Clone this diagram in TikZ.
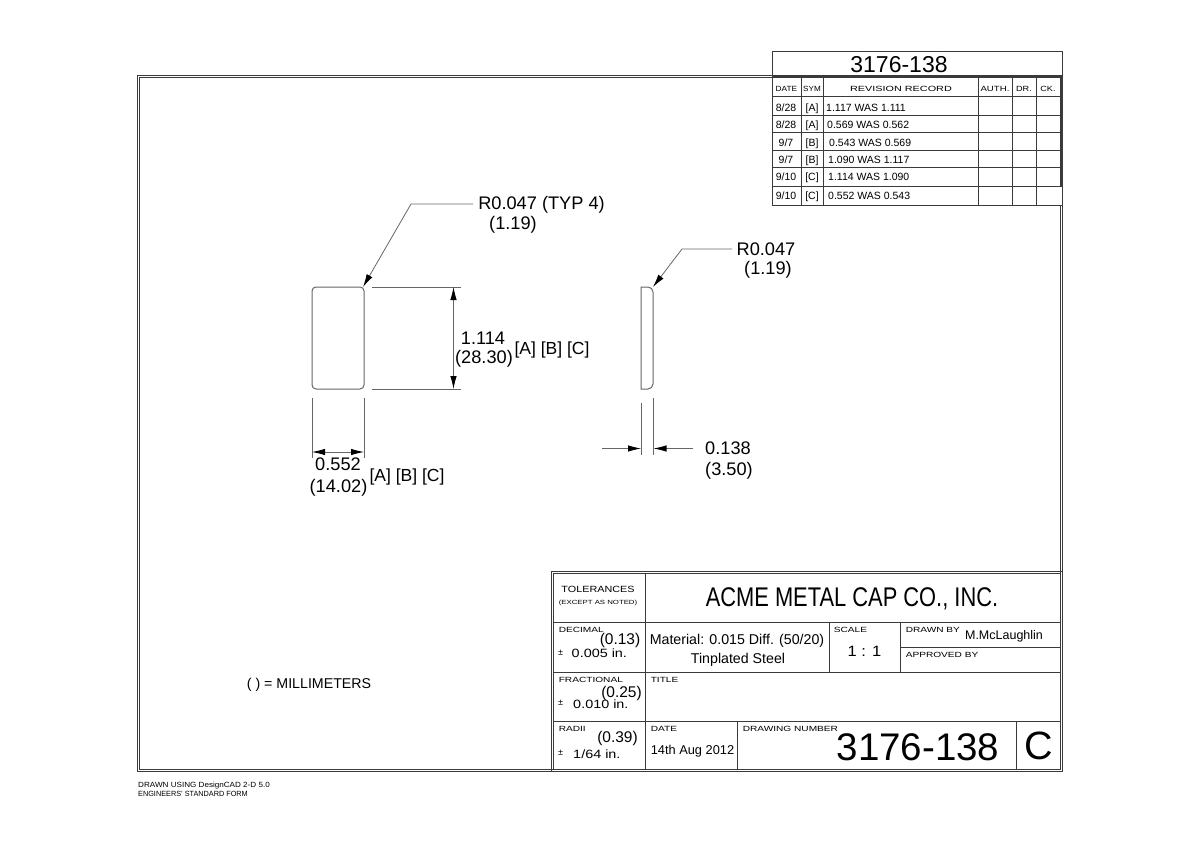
\documentclass[tikz,border=0pt]{standalone}
\usepackage{fontspec}
\setmainfont{Liberation Sans}
\usetikzlibrary{arrows.meta, positioning}

\definecolor{inkline}{HTML}{3A3A3A}
\definecolor{dimline}{HTML}{666666}

\newcommand{\fsz}[1]{\fontsize{#1}{#1}\selectfont}

\tikzset{
	frameline/.style={draw=inkline, line width=1pt},
	partline/.style={draw=dimline, line width=1pt},
	dimension/.style={draw=dimline, line width=0.8pt},
	dimarrow/.style={dimension, -{Latex[length=13pt, width=6.5pt, black]}},
	dimtwin/.style={dimension, {Latex[length=13pt, width=6.5pt, black]}-{Latex[length=13pt, width=6.5pt, black]}},
	plaintext/.style={inner sep=0pt, text depth=0pt},
	dimtext/.style={plaintext, font=\fsz{18.2}},
	revtext/.style={plaintext, font=\fsz{17.5}},
	rowtext/.style={plaintext, font=\fsz{10.5}},
	bodytext/.style={plaintext, font=\fsz{14.2}},
	mmtext/.style={plaintext, font=\fsz{15.5}},
	pmtext/.style={plaintext, font=\fsz{9}},
	valuetext/.style={plaintext, font=\fsz{12}, xscale=1.2, transform shape},
	tinytext/.style={plaintext, font=\fsz{7.5}, xscale=1.35, transform shape},
}

\begin{document}
\begin{tikzpicture}[x=1pt, y=-1pt]
	\useasboundingbox (0,0) rectangle (1200,848);

	% border
	\draw[frameline] (137,76) -- (772,76);
	\draw[frameline] (137,76) rectangle (1062,771);
	\draw[frameline] (139,78) -- (772,78);
	\draw[frameline] (139,78) -- (139,769) -- (1060,769);
	\draw[frameline] (1060,205) -- (1060,769);

	% revision table
	\draw[frameline] (772,52) rectangle (1062,205);
	\draw[frameline, line width=1.4pt] (772,77) -- (1062,77);
	\foreach \rowy in {97,116,133,151,168,187}
		\draw[frameline] (772,\rowy) -- (1062,\rowy);
	\foreach \colx in {801,823,978,1012,1036}
		\draw[frameline] (\colx,77) -- (\colx,205);
	\draw[frameline, line width=1.6pt] (1061,77) -- (1061,187);

	\node[plaintext, font=\fsz{23}] (revtitle) at (899,64) {3176-138};
	\node[tinytext, xscale=0.82] (hdate) at (786.5,88.5) {DATE};
	\node[tinytext, xscale=0.8] (hsym) at (812,88.5) {SYM};
	\node[tinytext, xscale=1.07] (hrec) at (901,88.5) {REVISION RECORD};
	\node[tinytext, xscale=0.95] (hauth) at (995,88.5) {AUTH.};
	\node[tinytext, xscale=0.9] (hdr) at (1024,88.5) {DR.};
	\node[tinytext, xscale=0.9] (hck) at (1048,88.5) {CK.};

	\foreach \rownum/\rowy/\rowdate/\rowsym/\rowx/\rowrec in {
		1/108/8\slash 28/[A]/826/1.117 WAS 1.111,
		2/125/8\slash 28/[A]/827/0.569 WAS 0.562,
		3/143/9\slash 7/[B]/829/0.543 WAS 0.569,
		4/160/9\slash 7/[B]/828/1.090 WAS 1.117,
		5/177/9\slash 10/[C]/828/1.114 WAS 1.090,
		6/196/9\slash 10/[C]/828/0.552 WAS 0.543}
	{
		\node[rowtext] (rdate\rownum) at (786,\rowy) {\rowdate};
		\node[rowtext] (rsym\rownum) at (812,\rowy) {\rowsym};
		\node[rowtext, anchor=west] (rrec\rownum) at (\rowx,\rowy) {\rowrec};
	}

	% plate, front view
	\draw[partline, rounded corners=4pt] (312,287) rectangle (364,389);
	\coordinate (frontTip) at (363,287);
	\coordinate (frontBend) at (411,204);
	\coordinate (frontEnd) at (473,204);
	\draw[dimarrow] (frontEnd) -- (frontBend) -- (frontTip);
	\node[dimtext] (frontR) at (541.5,203) {R0.047 (TYP 4)};
	\node[dimtext] (frontRmm) at (513,223) {(1.19)};

	\coordinate (heightTopA) at (372,287);
	\coordinate (heightTopB) at (461,287);
	\coordinate (heightBotA) at (372,389);
	\coordinate (heightBotB) at (461,389);
	\coordinate (heightTop) at (453.5,287);
	\coordinate (heightBot) at (453.5,389);
	\draw[dimension] (heightTopA) -- (heightTopB);
	\draw[dimension] (heightBotA) -- (heightBotB);
	\draw[dimtwin] (heightTop) -- (heightBot);
	\node[dimtext] (heightIn) at (483,338) {1.114};
	\node[dimtext] (heightMm) at (484,357) {(28.30)};
	\node[revtext] (heightRev) at (552,348) {[A] [B] [C]};

	\coordinate (widthLA) at (312,398);
	\coordinate (widthLB) at (312,458);
	\coordinate (widthRA) at (364,398);
	\coordinate (widthRB) at (364,458);
	\coordinate (widthL) at (312,452);
	\coordinate (widthR) at (364,452);
	\draw[dimension] (widthLA) -- (widthLB);
	\draw[dimension] (widthRA) -- (widthRB);
	\draw[dimtwin] (widthL) -- (widthR);
	\node[dimtext] (widthIn) at (338,464.5) {0.552};
	\node[dimtext] (widthMm) at (338.5,486) {(14.02)};
	\node[revtext] (widthRev) at (407,475) {[A] [B] [C]};

	% plate, side view
	\draw[partline] (653,292) -- (653,384) to[out=270, in=0] (648,389) -- (641,389) -- (641,287) -- (648,287) to[out=0, in=90] (653,292);
	\coordinate (sideTip) at (653,287);
	\coordinate (sideBend) at (682,249);
	\coordinate (sideEnd) at (732,249);
	\draw[dimarrow] (sideEnd) -- (sideBend) -- (sideTip);
	\node[dimtext] (sideR) at (766,249) {R0.047};
	\node[dimtext] (sideRmm) at (768,268) {(1.19)};

	\coordinate (thickLA) at (641,403);
	\coordinate (thickLB) at (641,455);
	\coordinate (thickRA) at (653.5,398);
	\coordinate (thickRB) at (653.5,455);
	\coordinate (thickL) at (641,448.5);
	\coordinate (thickR) at (653.5,448.5);
	\coordinate (thickLEnd) at (602,448.5);
	\coordinate (thickREnd) at (693,448.5);
	\draw[dimension] (thickLA) -- (thickLB);
	\draw[dimension] (thickRA) -- (thickRB);
	\draw[dimarrow] (thickLEnd) -- (thickL);
	\draw[dimarrow] (thickREnd) -- (thickR);
	\node[dimtext] (thickIn) at (728,448) {0.138};
	\node[dimtext] (thickMm) at (729,469) {(3.50)};

	% notes
	\node[bodytext] (unitnote) at (309,683) {( ) = MILLIMETERS};
	\node[tinytext, anchor=west, xscale=0.8] (drawnusing) at (138,785) {DRAWN USING DesignCAD 2-D 5.0};
	\node[tinytext, anchor=west, xscale=0.72] (stdform) at (138,794) {ENGINEERS' STANDARD FORM};

	% title block
	\draw[frameline] (551,571) rectangle (1062,771);
	\draw[frameline] (553,573) rectangle (1060,769);
	\foreach \rowy in {622,672,721}
		\draw[frameline] (553,\rowy) -- (1060,\rowy);
	\draw[frameline] (645,573) -- (645,769);
	\draw[frameline] (737,721) -- (737,769);
	\draw[frameline] (829,622) -- (829,672);
	\draw[frameline] (900,622) -- (900,672);
	\draw[frameline] (900,647) -- (1060,647);
	\draw[frameline] (1016,721) -- (1016,769);

	\node[plaintext, font=\fsz{9}, xscale=1.2, transform shape] (tol) at (598,589.5) {TOLERANCES};
	\node[plaintext, font=\fsz{6}, xscale=1.3, transform shape] (tolnote) at (598,602.5) {(EXCEPT AS NOTED)};
	\node[plaintext, font=\fsz{27}, xscale=0.81, transform shape] (company) at (852,597.5) {ACME METAL CAP CO., INC.};

	\node[tinytext, anchor=west] (decimal) at (558.5,630) {DECIMAL};
	\node[mmtext] (decmm) at (620,639) {(0.13)};
	\node[pmtext] (decpm) at (560.5,652.5) {±};
	\node[valuetext, anchor=west] (decval) at (571.5,653.5) {0.005 in.};

	\node[bodytext] (material) at (737,639) {Material: 0.015 Diff. (50/20)};
	\node[bodytext] (tinplate) at (738,658) {Tinplated Steel};
	\node[tinytext] (scale) at (850.5,630) {SCALE};
	\node[plaintext, font=\fsz{15}, xscale=1.1, transform shape] (scaleval) at (864.5,651.5) {1 : 1};
	\node[tinytext, anchor=west] (drawnby) at (905.5,630) {DRAWN BY};
	\node[plaintext, font=\fsz{12.5}] (drawer) at (1004,635) {M.McLaughlin};
	\node[tinytext, anchor=west] (approved) at (905.5,654.5) {APPROVED BY};

	\node[tinytext, anchor=west] (fractional) at (558.5,679.5) {FRACTIONAL};
	\node[tinytext, anchor=west] (title) at (650.5,679.5) {TITLE};
	\node[mmtext] (fracmm) at (621.5,691.5) {(0.25)};
	\node[pmtext] (fracpm) at (560.5,702.5) {±};
	\node[valuetext, anchor=west] (fracval) at (573,704.5) {0.010 in.};

	\node[tinytext, anchor=west] (radii) at (558.5,728.5) {RADII};
	\node[mmtext] (radmm) at (617.5,736.5) {(0.39)};
	\node[pmtext] (radpm) at (560.5,752.5) {±};
	\node[valuetext, anchor=west] (radval) at (573,754.5) {1/64 in.};

	\node[tinytext, anchor=west] (date) at (650.5,728.5) {DATE};
	\node[plaintext, font=\fsz{12.8}] (dateval) at (692.5,749.5) {14th Aug 2012};
	\node[tinytext, anchor=west] (dwgno) at (742.5,728.5) {DRAWING NUMBER};
	\node[plaintext, font=\fsz{38.5}] (dwgval) at (918,747.5) {3176-138};
	\node[plaintext, font=\fsz{39.5}] (rev) at (1038.5,745.5) {C};
\end{tikzpicture}
\end{document}
